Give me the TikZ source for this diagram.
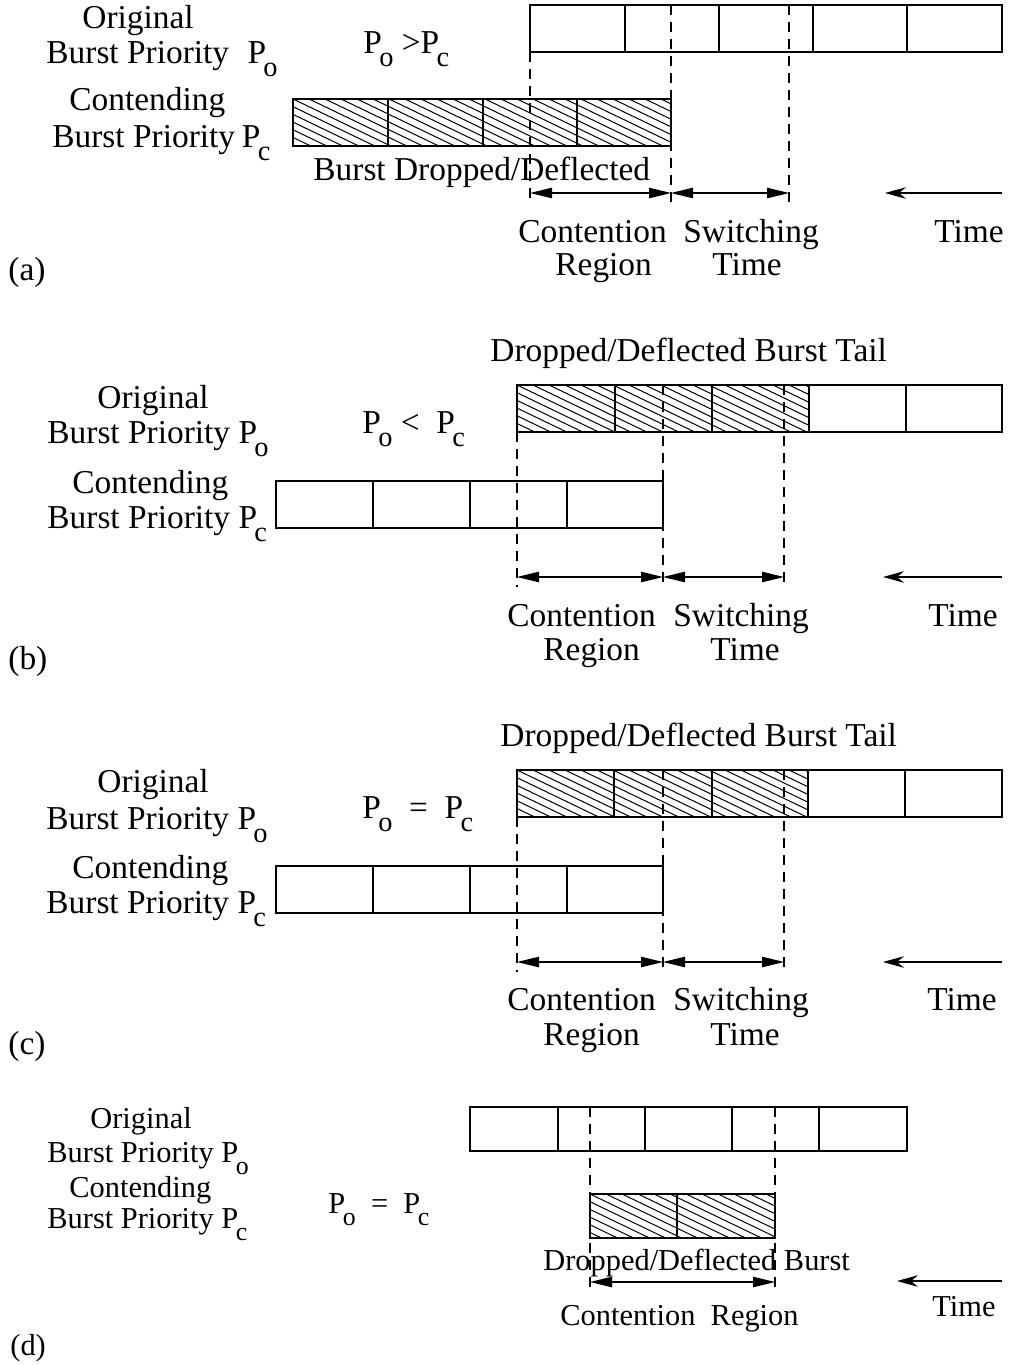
\documentclass[tikz,border=0pt]{standalone}
\usepackage{fontspec}
\setmainfont{Liberation Serif}
\usepackage{graphicx}
\usetikzlibrary{arrows.meta}

% priority symbol with a large, deeply lowered subscript
\newcommand\Psub[1]{P\kern-0.08em\raisebox{-0.4em}{\scalebox{0.85}{#1}}}

% diagonal hatching of a rectangle: x1 y1 x2 y2
\newcommand\hatchrect[4]{%
  \begin{scope}
    \clip (#1,#2) rectangle (#3,#4);
    \foreach \k in {-10,...,30}{
      \draw[hatchline] ({#1+16*\k},#2) -- ++(260,125);
    }
  \end{scope}}

\tikzset{
  x=0.5pt, y=-0.5pt,
  hatchline/.style={line width=0.5pt},
  cell/.style={draw, line width=0.7pt},
  guide/.style={line width=0.6pt, dash pattern=on 5pt off 3.5pt},
  span/.style={line width=0.6pt,
    {Triangle[length=11pt,width=5.2pt]}-{Triangle[length=11pt,width=5.2pt]}},
  timearrow/.style={line width=0.6pt, -{Stealth[length=10.5pt,width=5.8pt,inset=3.5pt]}},
  lbl/.style={inner sep=0pt, anchor=base west, font=\fontsize{16.7}{19}\selectfont},
  lbld/.style={lbl, font=\fontsize{15.2}{17}\selectfont},
}

\begin{document}
\begin{tikzpicture}
\useasboundingbox (0,0) rectangle (1008,1365);

% ---------------- (a) P_o > P_c ----------------
\hatchrect{293}{99}{671}{146}
\draw[cell] (293,99) rectangle (671,146);
\foreach \x in {388,483,577} \draw[cell] (\x,99) -- (\x,146);
\draw[cell] (530,5) rectangle (1002,52);
\foreach \x in {625,719,813,907} \draw[cell] (\x,5) -- (\x,52);
\draw[guide] (530,52) -- (530,202);
\draw[guide] (671,5) -- (671,202);
\draw[guide] (789,5) -- (789,202);
\coordinate (a-c1) at (530,193);
\coordinate (a-c2) at (671,193);
\coordinate (a-c3) at (789,193);
\coordinate (a-t1) at (1002,193);
\coordinate (a-t2) at (885,193);
\draw[span] (a-c1) -- (a-c2);
\draw[span] (a-c2) -- (a-c3);
\draw[timearrow] (a-t1) -- (a-t2);

\node[lbl] (a-l1) at (82,28) {Original};
\node[lbl] (a-l2) at (46,63) {Burst Priority\hspace{0.55em}\Psub{o}};
\node[lbl] (a-l3) at (69,110) {Contending};
\node[lbl] (a-l4) at (52,147) {Burst Priority\hspace{0.2em}\Psub{c}};
\node[lbl] (a-rel) at (363,53) {\Psub{o} >\Psub{c}};
\node[lbl] (a-drop) at (313,180) {Burst Dropped/Deflected};
\node[lbl] (a-cr1) at (518,242) {Contention};
\node[lbl] (a-cr2) at (555,275) {Region};
\node[lbl] (a-sw1) at (683,242) {Switching};
\node[lbl] (a-sw2) at (712,275) {Time};
\node[lbl] (a-time) at (934,242) {Time};
\node[lbl] (a-tag) at (8,280) {(a)};

% ---------------- (b) P_o < P_c ----------------
\hatchrect{517}{385}{809}{432}
\draw[cell] (517,385) rectangle (1002,432);
\foreach \x in {615,712,809,906} \draw[cell] (\x,385) -- (\x,432);
\draw[cell] (276,481) rectangle (663,528);
\foreach \x in {373,470,567} \draw[cell] (\x,481) -- (\x,528);
\draw[guide] (517,432) -- (517,587);
\draw[guide] (663,385) -- (663,587);
\draw[guide] (784,385) -- (784,587);
\coordinate (b-c1) at (517,577);
\coordinate (b-c2) at (663,577);
\coordinate (b-c3) at (784,577);
\coordinate (b-t1) at (1002,577);
\coordinate (b-t2) at (883,577);
\draw[span] (b-c1) -- (b-c2);
\draw[span] (b-c2) -- (b-c3);
\draw[timearrow] (b-t1) -- (b-t2);

\node[lbl] (b-tail) at (490,361) {Dropped/Deflected Burst Tail};
\node[lbl] (b-l1) at (97,408) {Original};
\node[lbl] (b-l2) at (47,443) {Burst Priority \Psub{o}};
\node[lbl] (b-l3) at (72,493) {Contending};
\node[lbl] (b-l4) at (47,528) {Burst Priority \Psub{c}};
\node[lbl] (b-rel) at (362,433) {\Psub{o} <\ \ \Psub{c}};
\node[lbl] (b-cr1) at (507,626) {Contention};
\node[lbl] (b-cr2) at (543,660) {Region};
\node[lbl] (b-sw1) at (673,626) {Switching};
\node[lbl] (b-sw2) at (710,660) {Time};
\node[lbl] (b-time) at (928,626) {Time};
\node[lbl] (b-tag) at (8,669) {(b)};

% ---------------- (c) P_o = P_c ----------------
\hatchrect{517}{770}{808}{817}
\draw[cell] (517,770) rectangle (1002,817);
\foreach \x in {614,712,808,905} \draw[cell] (\x,770) -- (\x,817);
\draw[cell] (276,866) rectangle (663,913);
\foreach \x in {373,470,567} \draw[cell] (\x,866) -- (\x,913);
\draw[guide] (517,817) -- (517,972);
\draw[guide] (663,770) -- (663,972);
\draw[guide] (784,770) -- (784,972);
\coordinate (c-c1) at (517,962);
\coordinate (c-c2) at (663,962);
\coordinate (c-c3) at (784,962);
\coordinate (c-t1) at (1002,962);
\coordinate (c-t2) at (883,962);
\draw[span] (c-c1) -- (c-c2);
\draw[span] (c-c2) -- (c-c3);
\draw[timearrow] (c-t1) -- (c-t2);

\node[lbl] (c-tail) at (500,746) {Dropped/Deflected Burst Tail};
\node[lbl] (c-l1) at (97,792) {Original};
\node[lbl] (c-l2) at (46,829) {Burst Priority \Psub{o}};
\node[lbl] (c-l3) at (72,878) {Contending};
\node[lbl] (c-l4) at (46,913) {Burst Priority \Psub{c}};
\node[lbl] (c-rel) at (362,818) {\Psub{o}\ \ =\ \ \Psub{c}};
\node[lbl] (c-cr1) at (507,1010) {Contention};
\node[lbl] (c-cr2) at (543,1045) {Region};
\node[lbl] (c-sw1) at (673,1010) {Switching};
\node[lbl] (c-sw2) at (710,1045) {Time};
\node[lbl] (c-time) at (927,1010) {Time};
\node[lbl] (c-tag) at (8,1054) {(c)};

% ---------------- (d) P_o = P_c, overlapping bursts ----------------
\draw[cell] (470,1107) rectangle (907,1151);
\foreach \x in {558,645,732,819} \draw[cell] (\x,1107) -- (\x,1151);
\hatchrect{590}{1194}{775}{1238}
\draw[cell] (590,1194) rectangle (775,1238);
\draw[cell] (677,1194) -- (677,1238);
\draw[guide] (590,1107) -- (590,1290);
\draw[guide] (775,1107) -- (775,1290);
\coordinate (d-c1) at (590,1282);
\coordinate (d-c2) at (775,1282);
\coordinate (d-t1) at (1002,1281);
\coordinate (d-t2) at (897,1281);
\draw[span] (d-c1) -- (d-c2);
\draw[timearrow] (d-t1) -- (d-t2);

\node[lbld] (d-l1) at (90,1128) {Original};
\node[lbld] (d-l2) at (47,1162) {Burst Priority \Psub{o}};
\node[lbld] (d-l3) at (69,1197) {Contending};
\node[lbld] (d-l4) at (47,1228) {Burst Priority \Psub{c}};
\node[lbld] (d-rel) at (328,1213) {\Psub{o}\ \ =\ \ \Psub{c}};
\node[lbld] (d-drop) at (543,1270) {Dropped/Deflected Burst};
\node[lbld] (d-cr) at (560,1325) {Contention\ \ Region};
\node[lbld] (d-time) at (932,1316) {Time};
\node[lbld] (d-tag) at (10,1355) {(d)};
\end{tikzpicture}
\end{document}
